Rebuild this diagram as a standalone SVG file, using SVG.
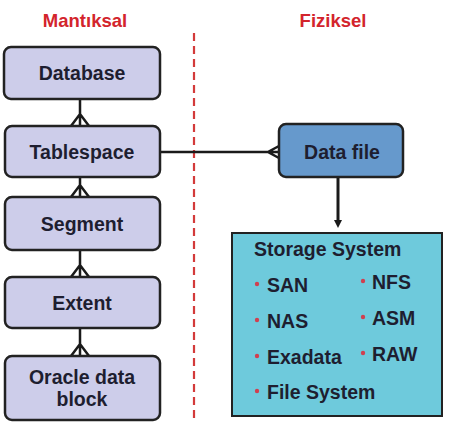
<svg xmlns="http://www.w3.org/2000/svg" width="449" height="424" viewBox="0 0 449 424">
<defs>
<style>
.lnode{fill:#cdcdea;stroke:#222;stroke-width:2.5}
.t{font-family:"Liberation Sans",Arial,sans-serif;font-weight:bold;fill:#1e1e30}
.nt{font-size:19.5px;text-anchor:middle}
.st{font-size:19.5px}
.title{font-family:"Liberation Sans",Arial,sans-serif;font-weight:bold;font-size:18.5px;fill:#d3242c;text-anchor:middle}
.conn{stroke:#1a1a1a;stroke-width:2.5;fill:none}
.bul{fill:#d04050}
</style>
<marker id="arr" markerWidth="8" markerHeight="8" refX="1" refY="4" orient="auto" markerUnits="userSpaceOnUse" viewBox="0 0 8 8">
<path d="M0,0 L8,4 L0,8 Z" fill="#1a1a1a"/>
</marker>
</defs>
<rect width="449" height="424" fill="#fff"/>
<text class="title" x="85" y="27">Mantıksal</text>
<text class="title" x="333" y="27">Fiziksel</text>
<line x1="194" y1="33" x2="194" y2="420" stroke="#d33a3a" stroke-width="2.2" stroke-dasharray="8,5"/>
<g id="connectors">
<path class="conn" d="M80,99 V126 M71,126 L80,114 L89,126"/>
<path class="conn" d="M80,177 V197 M71,197 L80,185 L89,197"/>
<path class="conn" d="M80,250 V277 M71,277 L80,265 L89,277"/>
<path class="conn" d="M80,328 V356 M71,356 L80,344 L89,356"/>
<path class="conn" d="M160,152 H279 M279,146 L268,152 L279,158"/>
<line x1="338" y1="177" x2="338" y2="221" stroke="#1a1a1a" stroke-width="3" marker-end="url(#arr)"/>
</g>
<g id="database">
<rect class="lnode" x="4" y="47" width="156" height="52" rx="7"/>
<text class="t nt" x="82" y="80">Database</text>
</g>
<g id="tablespace">
<rect class="lnode" x="5" y="126" width="155" height="51" rx="7"/>
<text class="t nt" x="82" y="159">Tablespace</text>
</g>
<g id="segment">
<rect class="lnode" x="5" y="197" width="155" height="53" rx="7"/>
<text class="t nt" x="82" y="231">Segment</text>
</g>
<g id="extent">
<rect class="lnode" x="5" y="277" width="155" height="51" rx="7"/>
<text class="t nt" x="82" y="310">Extent</text>
</g>
<g id="oracle-data-block">
<rect class="lnode" x="5" y="356" width="155" height="64" rx="7"/>
<text class="t nt" x="82" y="384">Oracle data</text>
<text class="t nt" x="82" y="406">block</text>
</g>
<g id="data-file">
<rect x="279" y="124" width="124" height="53" rx="7" fill="#6699cc" stroke="#222" stroke-width="2.5"/>
<text class="t nt" x="342" y="159">Data file</text>
</g>
<g id="storage-system">
<rect x="232" y="233" width="210" height="183" fill="#6ecadc" stroke="#222" stroke-width="2"/>
<text class="t st" x="254" y="256">Storage System</text>
<circle class="bul" cx="257" cy="284" r="2.2"/>
<text class="t st" x="267" y="292">SAN</text>
<circle class="bul" cx="363" cy="281" r="2.2"/>
<text class="t st" x="372" y="289">NFS</text>
<circle class="bul" cx="257" cy="320" r="2.2"/>
<text class="t st" x="267" y="328">NAS</text>
<circle class="bul" cx="363" cy="317" r="2.2"/>
<text class="t st" x="372" y="325">ASM</text>
<circle class="bul" cx="257" cy="356" r="2.2"/>
<text class="t st" x="267" y="364">Exadata</text>
<circle class="bul" cx="363" cy="353" r="2.2"/>
<text class="t st" x="372" y="361">RAW</text>
<circle class="bul" cx="257" cy="391" r="2.2"/>
<text class="t st" x="267" y="399">File System</text>
</g>
</svg>
